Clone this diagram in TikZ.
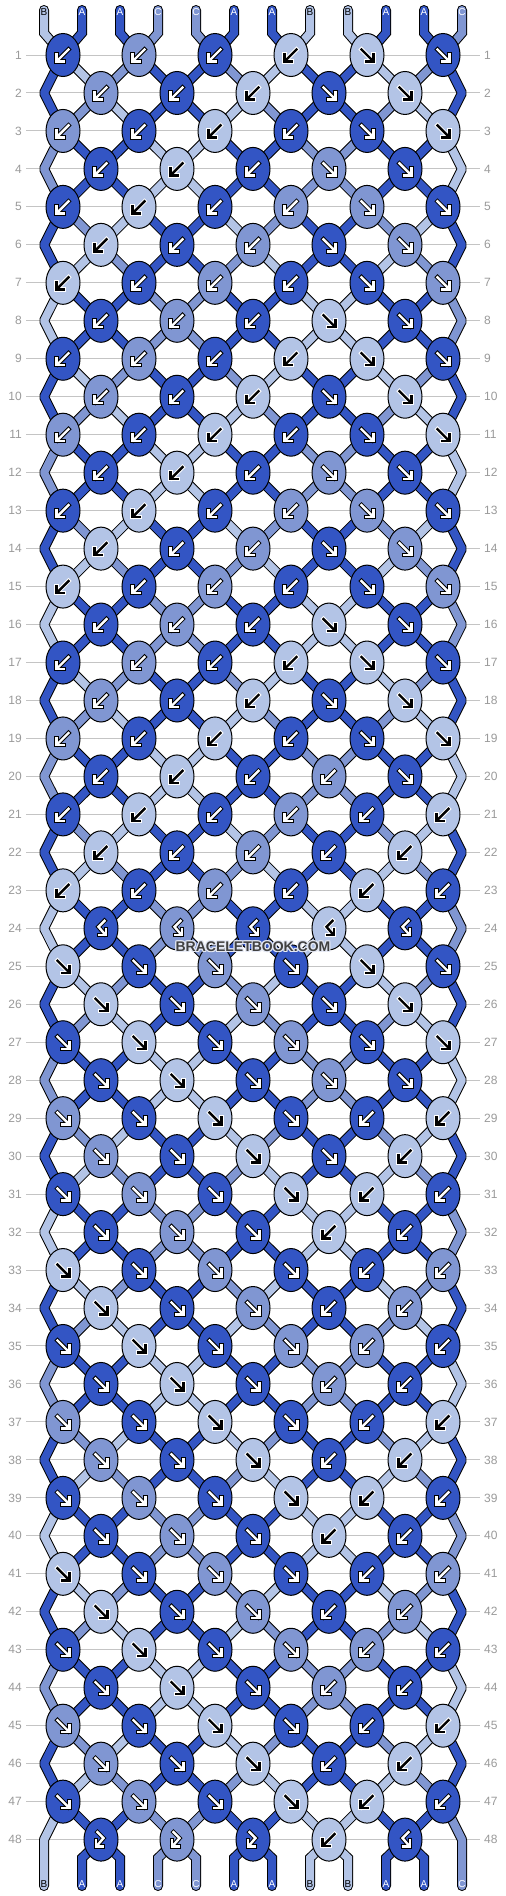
\documentclass[tikz,border=0pt]{standalone}
\usepackage{fontspec}
\setmainfont{Liberation Sans}
\usetikzlibrary{shapes.geometric}
\definecolor{colA}{HTML}{3355C4}
\definecolor{colB}{HTML}{B3C4E6}
\definecolor{colC}{HTML}{8096D2}
\definecolor{numgray}{HTML}{9A9A9A}
\definecolor{linegray}{HTML}{C4C4C4}
\definecolor{wmgray}{HTML}{404040}
\definecolor{wmhalo}{HTML}{E4E8F4}

\def\setrow#1#2{\expandafter\def\csname RT#1\endcsname{#2}}
\setrow{1}{L,L,L,L,R,R}
\setrow{2}{L,L,L,R,R}
\setrow{3}{L,L,L,L,R,R}
\setrow{4}{L,L,L,R,R}
\setrow{5}{L,L,L,L,R,R}
\setrow{6}{L,L,L,R,R}
\setrow{7}{L,L,L,L,R,R}
\setrow{8}{L,L,L,R,R}
\setrow{9}{L,L,L,L,R,R}
\setrow{10}{L,L,L,R,R}
\setrow{11}{L,L,L,L,R,R}
\setrow{12}{L,L,L,R,R}
\setrow{13}{L,L,L,L,R,R}
\setrow{14}{L,L,L,R,R}
\setrow{15}{L,L,L,L,R,R}
\setrow{16}{L,L,L,R,R}
\setrow{17}{L,L,L,L,R,R}
\setrow{18}{L,L,L,R,R}
\setrow{19}{L,L,L,L,R,R}
\setrow{20}{L,L,L,L,R}
\setrow{21}{L,L,L,L,L,L}
\setrow{22}{L,L,L,L,L}
\setrow{23}{L,L,L,L,L,L}
\setrow{24}{G,G,G,G,G}
\setrow{25}{R,R,R,R,R,R}
\setrow{26}{R,R,R,R,R}
\setrow{27}{R,R,R,R,R,R}
\setrow{28}{R,R,R,R,R}
\setrow{29}{R,R,R,R,L,L}
\setrow{30}{R,R,R,R,L}
\setrow{31}{R,R,R,R,L,L}
\setrow{32}{R,R,R,L,L}
\setrow{33}{R,R,R,R,L,L}
\setrow{34}{R,R,R,L,L}
\setrow{35}{R,R,R,R,L,L}
\setrow{36}{R,R,R,L,L}
\setrow{37}{R,R,R,R,L,L}
\setrow{38}{R,R,R,L,L}
\setrow{39}{R,R,R,R,L,L}
\setrow{40}{R,R,R,L,L}
\setrow{41}{R,R,R,R,L,L}
\setrow{42}{R,R,R,L,L}
\setrow{43}{R,R,R,R,L,L}
\setrow{44}{R,R,R,L,L}
\setrow{45}{R,R,R,R,L,L}
\setrow{46}{R,R,R,L,L}
\setrow{47}{R,R,R,R,L,L}
\setrow{48}{F,F,F,L,G}

\def\swapstr{\expandafter\xdef\csname S\il\endcsname{\colR}%
  \expandafter\xdef\csname S\ir\endcsname{\colL}}

\tikzset{
  knot/.style={ellipse, draw=black, line width=1pt, minimum width=34pt, minimum height=43pt, inner sep=0pt},
  strout/.style={draw=black, line width=10pt, line cap=round, line join=miter},
  strfill/.style={line width=8pt, line cap=round, line join=miter},
  gout/.style={draw=\bgc, line width=4.4pt, line cap=rect, line join=miter},
  gin/.style={draw=\fgc, line width=2.4pt, line cap=rect, line join=miter},
  num/.style={text=numgray, font=\fontsize{12}{12}\selectfont, inner sep=0pt},
  lbl/.style={font=\fontsize{10}{10}\selectfont, inner sep=0pt},
  rowline/.style={draw=linegray, line width=1pt},
  wm/.style={font=\bfseries\fontsize{14}{14}\selectfont, inner sep=0pt},
}

\newif\ifoutl
\newcommand\seg[3][]{\ifoutl\path[strout,#1] #3;\else\path[strfill,#1,draw=col#2] #3;\fi}

% glyph drawn twice: outline style then inner style
\newcommand\glyph[1]{%
  \if L\tp
    \draw[#1] (5.5,-5.5) -- (-5.6,5.6);
    \draw[#1] (-6.5,-0.5) -- (-6.5,6.5) -- (0.5,6.5);
  \fi
  \if R\tp
    \draw[#1] (-5.5,-5.5) -- (5.6,5.6);
    \draw[#1] (6.5,-0.5) -- (6.5,6.5) -- (-0.5,6.5);
  \fi
  \if F\tp
    \draw[#1] (-3.5,-7.5) -- (2.5,-1.5) -- (-4,6);
    \draw[#1] (-4.8,0.5) -- (-4.8,6.8) -- (1.5,6.8);
  \fi
  \if G\tp
    \draw[#1] (3.5,-7.5) -- (-2.5,-1.5) -- (4,6);
    \draw[#1] (4.8,0.5) -- (4.8,6.8) -- (-1.5,6.8);
  \fi}

\newcommand\segpass{%
  \foreach \rw in {1,...,47} {
    \pgfmathtruncatemacro\rn{\rw+1}
    \foreach \ps in {2,...,11} {
      \pgfmathtruncatemacro\ia{isodd(\rw) ? 2*int((\ps-1)/2)+1 : 2*int(\ps/2)}
      \pgfmathtruncatemacro\ib{isodd(\rn) ? 2*int((\ps-1)/2)+1 : 2*int(\ps/2)}
      \edef\segc{\csname C\rw-\ps\endcsname}
      \seg{\segc}{(c\rw-\ia) -- (c\rn-\ib)}
    }
  }
  \foreach \rw in {1,3,...,45} {
    \pgfmathtruncatemacro\ra{\rw+1}
    \pgfmathtruncatemacro\rb{\rw+2}
    \edef\segc{\csname C\rw-1\endcsname}
    \seg[line join=bevel]{\segc}{(c\rw-1) -- (eL\ra) -- (c\rb-1)}
    \edef\segc{\csname C\rw-12\endcsname}
    \seg[line join=bevel]{\segc}{(c\rw-11) -- (eR\ra) -- (c\rb-11)}
  }
  \foreach \lt [count=\ps] in {B,A,A,C,C,A,A,B,B,A,A,C} {
    \pgfmathtruncatemacro\ia{2*int((\ps-1)/2)+1}
    \seg{\lt}{(ts\ps) -- (tb\ps) -- (c1-\ia)}
  }
  \foreach \ps in {2,...,11} {
    \pgfmathtruncatemacro\ia{2*int(\ps/2)}
    \edef\segc{\csname C48-\ps\endcsname}
    \seg{\segc}{(c48-\ia) -- (bb\ps) -- (be\ps)}
  }
  \edef\segc{\csname C48-1\endcsname}
  \seg[line join=bevel]{\segc}{(c47-1) -- (eL48) -- (be1)}
  \edef\segc{\csname C48-12\endcsname}
  \seg[line join=bevel]{\segc}{(c47-11) -- (eR48) -- (be12)}
}

\begin{document}
\begin{tikzpicture}[x=1pt,y=-1pt]
\useasboundingbox (0,0) rectangle (506,1896);
\fill[white] (0,0) rectangle (506,1896);

% initial strings
\foreach \lt [count=\ps] in {B,A,A,C,C,A,A,B,B,A,A,C} {
  \expandafter\xdef\csname S\ps\endcsname{\lt}
  \expandafter\xdef\csname C0-\ps\endcsname{\lt}
}

% simulation: knot positions, colours, string colours
\foreach \rw in {1,...,48} {
  \pgfmathsetmacro\yy{55+(\rw-1)*37.97}
  \edef\curtypes{\csname RT\rw\endcsname}
  \foreach \tp [count=\kn from 0] in \curtypes {
    \pgfmathtruncatemacro\il{isodd(\rw) ? 2*\kn+1 : 2*\kn+2}
    \pgfmathtruncatemacro\ir{\il+1}
    \pgfmathsetmacro\xx{isodd(\rw) ? 63+76*\kn : 101+76*\kn}
    \edef\colL{\csname S\il\endcsname}
    \edef\colR{\csname S\ir\endcsname}
    \if L\tp \let\kc\colR \fi
    \if G\tp \let\kc\colR \fi
    \if R\tp \let\kc\colL \fi
    \if F\tp \let\kc\colL \fi
    \if L\tp \swapstr \fi
    \if R\tp \swapstr \fi
    \expandafter\xdef\csname K\rw-\il\endcsname{\kc}
    \coordinate (c\rw-\il) at (\xx,\yy);
  }
  \foreach \ps in {1,...,12} {\expandafter\xdef\csname C\rw-\ps\endcsname{\csname S\ps\endcsname}}
}

% row lines, numbers, edge points
\foreach \rw in {1,...,48} {
  \pgfmathsetmacro\yy{55+(\rw-1)*37.97}
  \draw[rowline] (26,\yy) -- (480,\yy);
  \node[num,anchor=east] (ln\rw) at (22,\yy) {\rw};
  \node[num,anchor=west] (rn\rw) at (484,\yy) {\rw};
  \coordinate (eL\rw) at (44,\yy);
  \coordinate (eR\rw) at (462,\yy);
}

% string end points
\foreach \ps in {1,...,12} {
  \pgfmathsetmacro\xp{44+38*(\ps-1)}
  \coordinate (ts\ps) at (\xp,10);
  \coordinate (tb\ps) at (\xp,33);
  \coordinate (bb\ps) at (\xp,1858);
  \coordinate (be\ps) at (\xp,1886);
}

% strings: outlines, then fills
\outltrue\segpass
\outlfalse\segpass

% knots
\foreach \rw in {1,...,48} {
  \edef\curtypes{\csname RT\rw\endcsname}
  \foreach \tp [count=\kn from 0] in \curtypes {
    \pgfmathtruncatemacro\il{isodd(\rw) ? 2*\kn+1 : 2*\kn+2}
    \edef\kc{\csname K\rw-\il\endcsname}
    \def\fgc{white}\def\bgc{black}
    \if B\kc \def\fgc{black}\def\bgc{white}\fi
    \node[knot, fill=col\kc] (n\rw-\il) at (c\rw-\il) {};
    \begin{scope}[shift={(n\rw-\il.center)}]
      \glyph{gout}
      \glyph{gin}
    \end{scope}
  }
}

% string labels
\foreach \lt [count=\ps] in {B,A,A,C,C,A,A,B,B,A,A,C} {
  \pgfmathsetmacro\xp{44+38*(\ps-1)}
  \def\lc{white}\if B\lt\def\lc{black}\fi
  \node[lbl,text=\lc] (tl\ps) at (\xp,12.5) {\lt};
}
\foreach \ps in {1,...,12} {
  \pgfmathsetmacro\xp{44+38*(\ps-1)}
  \edef\segc{\csname C48-\ps\endcsname}
  \def\lc{white}\if B\segc\def\lc{black}\fi
  \node[lbl,text=\lc] (bl\ps) at (\xp,1884) {\segc};
}

% watermark with light halo
\foreach \dx/\dy in {-1/-1,0/-1,1/-1,-1/0,1/0,-1/1,0/1,1/1} {
  \node[wm, text=wmhalo] at (253+\dx,947+\dy) {BRACELETBOOK.COM};
}
\node[wm, text=wmgray] (wm) at (253,947) {BRACELETBOOK.COM};
\end{tikzpicture}
\end{document}
